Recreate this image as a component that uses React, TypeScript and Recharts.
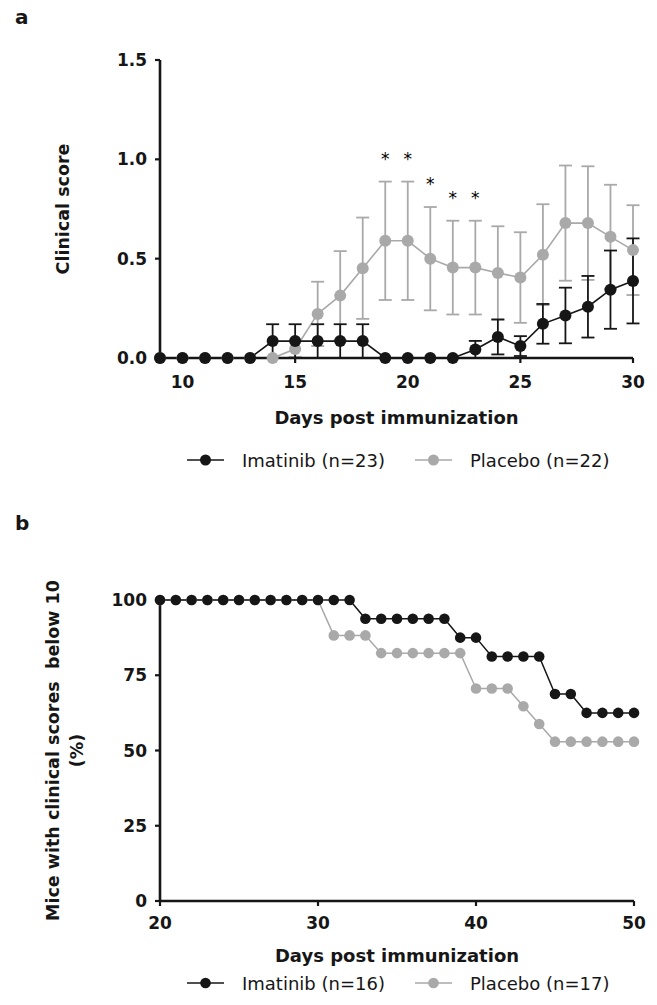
import React from "react";
import {
  ComposedChart,
  Line,
  Scatter,
  XAxis,
  YAxis,
  ErrorBar,
  Legend,
  Label,
} from "recharts";

// panel a: clinical score, mean and SEM per day
const DAYS_A = [9, 10, 11, 12, 13, 14, 15, 16, 17, 18, 19, 20, 21, 22, 23, 24, 25, 26, 27, 28, 29, 30];
const IMATINIB_SCORE = [0, 0, 0, 0, 0, 0.085, 0.085, 0.085, 0.085, 0.085, 0, 0, 0, 0, 0.043, 0.106, 0.06, 0.172, 0.214, 0.258, 0.344, 0.388];
const IMATINIB_SEM = [0, 0, 0, 0, 0, 0.085, 0.085, 0.085, 0.085, 0.085, 0, 0, 0, 0, 0.043, 0.088, 0.05, 0.1, 0.14, 0.155, 0.197, 0.214];
const PLACEBO_SCORE = [0, 0, 0, 0, 0, 0, 0.045, 0.222, 0.314, 0.452, 0.59, 0.59, 0.5, 0.455, 0.455, 0.428, 0.405, 0.52, 0.679, 0.679, 0.61, 0.543];
const PLACEBO_SEM = [0, 0, 0, 0, 0, 0, 0.04, 0.162, 0.224, 0.255, 0.298, 0.298, 0.26, 0.236, 0.236, 0.235, 0.228, 0.254, 0.29, 0.286, 0.262, 0.226];
const STAR_DAYS = [19, 20, 21, 22, 23];
const TICKS_A_X = [10, 15, 20, 25, 30];
const TICKS_A_Y = [0, 0.5, 1, 1.5];

// panel b: % of mice with clinical score below 10
const DAYS_B = [20, 21, 22, 23, 24, 25, 26, 27, 28, 29, 30, 31, 32, 33, 34, 35, 36, 37, 38, 39, 40, 41, 42, 43, 44, 45, 46, 47, 48, 49, 50];
const IMATINIB_PCT = [100, 100, 100, 100, 100, 100, 100, 100, 100, 100, 100, 100, 100, 93.75, 93.75, 93.75, 93.75, 93.75, 93.75, 87.5, 87.5, 81.25, 81.25, 81.25, 81.25, 68.75, 68.75, 62.5, 62.5, 62.5, 62.5];
const PLACEBO_PCT = [100, 100, 100, 100, 100, 100, 100, 100, 100, 100, 100, 88.24, 88.24, 88.24, 82.35, 82.35, 82.35, 82.35, 82.35, 82.35, 70.59, 70.59, 70.59, 64.71, 58.82, 52.94, 52.94, 52.94, 52.94, 52.94, 52.94];
const TICKS_B_X = [20, 30, 40, 50];
const TICKS_B_Y = [0, 25, 50, 75, 100];

const INK = "#161616";
const GREY = "#a9a9a9";
const FONT = "'DejaVu Sans', 'Liberation Sans', sans-serif";

const scoreData = DAYS_A.map((day, i) => ({
  day,
  imatinib: IMATINIB_SCORE[i],
  imatinibErr: IMATINIB_SEM[i],
  placebo: PLACEBO_SCORE[i],
  placeboErr: PLACEBO_SEM[i],
}));

// asterisks sit a fixed distance above the placebo error bar
const starData = STAR_DAYS.map((day) => {
  const i = DAYS_A.indexOf(day);
  return { day, y: PLACEBO_SCORE[i] + PLACEBO_SEM[i] + 0.135 };
});

const pctData = DAYS_B.map((day, i) => ({
  day,
  imatinib: IMATINIB_PCT[i],
  placebo: PLACEBO_PCT[i],
}));

const tickStyle = { fontFamily: FONT, fontWeight: 700, fontSize: 17, fill: INK };
const axisLine = { stroke: INK, strokeWidth: 2.6 };
const tickLine = { stroke: INK, strokeWidth: 2.2 };

function SeriesLegend({ items, r }: { items: { label: string; color: string }[]; r: number }) {
  const lefts = [187, 415];
  return (
    <div style={{ position: "relative", width: 633, height: 30 }}>
      {items.map((it, i) => (
        <div
          key={it.label}
          style={{
            position: "absolute",
            left: lefts[i],
            top: 0,
            height: 30,
            display: "flex",
            alignItems: "center",
          }}
        >
          <svg width={37} height={14}>
            <line x1={0} y1={7} x2={37} y2={7} stroke={it.color} strokeWidth={1.6} />
            <circle cx={18.5} cy={7} r={r} fill={it.color} />
          </svg>
          <span
            style={{
              marginLeft: 18,
              fontFamily: FONT,
              fontSize: 18,
              color: INK,
              whiteSpace: "nowrap",
            }}
          >
            {it.label}
          </span>
        </div>
      ))}
    </div>
  );
}

// rotated y-axis title, one or more lines at given x positions
function yTitle(lines: string[], xs: number[]) {
  return (props: any) => {
    const vb = props.viewBox || {};
    const cy = (vb.y || 0) + (vb.height || 0) / 2;
    return (
      <g>
        {lines.map((text, i) => (
          <text
            key={text}
            x={xs[i]}
            y={cy}
            transform={`rotate(-90 ${xs[i]} ${cy})`}
            textAnchor="middle"
            dominantBaseline="central"
            fontFamily={FONT}
            fontWeight={700}
            fontSize={17.5}
            fill={INK}
            style={{ whiteSpace: "pre" }}
          >
            {text}
          </text>
        ))}
      </g>
    );
  };
}

function Star(props: any) {
  return (
    <text x={props.cx} y={props.cy + 10} textAnchor="middle" fontFamily={FONT} fontSize={17} fill="#000">
      *
    </text>
  );
}

function PanelLetter({ letter, top }: { letter: string; top: number }) {
  return (
    <div
      style={{
        position: "absolute",
        left: 15,
        top,
        fontFamily: FONT,
        fontWeight: 700,
        fontSize: 20,
        lineHeight: "20px",
        color: INK,
      }}
    >
      {letter}
    </div>
  );
}

function ClinicalScoreChart() {
  return (
    <ComposedChart width={657} height={490} data={scoreData} margin={{ top: 60, right: 24, left: 0, bottom: 15 }}>
      <XAxis
        dataKey="day"
        type="number"
        domain={[9, 30]}
        ticks={TICKS_A_X}
        interval={0}
        height={87}
        tick={tickStyle}
        tickSize={5}
        tickMargin={13}
        axisLine={axisLine}
        tickLine={tickLine}
      >
        <Label
          value="Days post immunization"
          position="insideBottom"
          offset={21}
          fontFamily={FONT}
          fontWeight={700}
          fontSize={18}
          fill={INK}
        />
      </XAxis>
      <YAxis
        type="number"
        domain={[0, 1.5]}
        ticks={TICKS_A_Y}
        interval={0}
        width={160}
        tick={tickStyle}
        tickSize={5}
        tickMargin={8}
        tickFormatter={(v: number) => v.toFixed(1)}
        axisLine={axisLine}
        tickLine={tickLine}
      >
        <Label content={yTitle(["Clinical score"], [63])} />
      </YAxis>
      <Line
        dataKey="placebo"
        stroke={GREY}
        strokeWidth={1.6}
        dot={{ r: 6, fill: GREY, stroke: GREY, strokeWidth: 0 }}
        activeDot={false}
        isAnimationActive={false}
      >
        <ErrorBar dataKey="placeboErr" width={6.5} stroke={GREY} strokeWidth={1.8} direction="y" />
      </Line>
      <Line
        dataKey="imatinib"
        stroke={INK}
        strokeWidth={1.6}
        dot={{ r: 6, fill: INK, stroke: INK, strokeWidth: 0 }}
        activeDot={false}
        isAnimationActive={false}
      >
        <ErrorBar dataKey="imatinibErr" width={6.5} stroke={INK} strokeWidth={1.8} direction="y" />
      </Line>
      <Scatter data={starData} dataKey="y" shape={<Star />} isAnimationActive={false} />
      <Legend
        verticalAlign="bottom"
        content={() => (
          <SeriesLegend
            r={5.5}
            items={[
              { label: "Imatinib (n=23)", color: INK },
              { label: "Placebo (n=22)", color: GREY },
            ]}
          />
        )}
      />
    </ComposedChart>
  );
}

function BelowTenChart() {
  return (
    <ComposedChart width={657} height={515} data={pctData} margin={{ top: 110, right: 23, left: 0, bottom: 7 }}>
      <XAxis
        dataKey="day"
        type="number"
        domain={[20, 50]}
        ticks={TICKS_B_X}
        interval={0}
        height={67}
        tick={tickStyle}
        tickSize={5}
        tickMargin={11}
        axisLine={axisLine}
        tickLine={tickLine}
      >
        <Label
          value="Days post immunization"
          position="insideBottom"
          offset={6}
          fontFamily={FONT}
          fontWeight={700}
          fontSize={18}
          fill={INK}
        />
      </XAxis>
      <YAxis
        type="number"
        domain={[0, 100]}
        ticks={TICKS_B_Y}
        interval={0}
        width={160}
        tick={tickStyle}
        tickSize={5}
        tickMargin={8}
        axisLine={axisLine}
        tickLine={tickLine}
      >
        <Label content={yTitle(["Mice with clinical scores  below 10", "(%)"], [53, 77])} />
      </YAxis>
      <Line
        dataKey="placebo"
        stroke={GREY}
        strokeWidth={1.5}
        dot={{ r: 5.3, fill: GREY, stroke: GREY, strokeWidth: 0 }}
        activeDot={false}
        isAnimationActive={false}
      />
      <Line
        dataKey="imatinib"
        stroke={INK}
        strokeWidth={1.5}
        dot={{ r: 5.3, fill: INK, stroke: INK, strokeWidth: 0 }}
        activeDot={false}
        isAnimationActive={false}
      />
      <Legend
        verticalAlign="bottom"
        content={() => (
          <SeriesLegend
            r={5.3}
            items={[
              { label: "Imatinib (n=16)", color: INK },
              { label: "Placebo (n=17)", color: GREY },
            ]}
          />
        )}
      />
    </ComposedChart>
  );
}

export default function App() {
  return (
    <div style={{ position: "absolute", left: 0, top: 0, width: 657, height: 1005, background: "#fff", overflow: "hidden" }}>
      <PanelLetter letter="a" top={7} />
      <PanelLetter letter="b" top={513} />
      <div style={{ position: "absolute", left: 0, top: 0 }}>
        <ClinicalScoreChart />
      </div>
      <div style={{ position: "absolute", left: 0, top: 490 }}>
        <BelowTenChart />
      </div>
    </div>
  );
}
